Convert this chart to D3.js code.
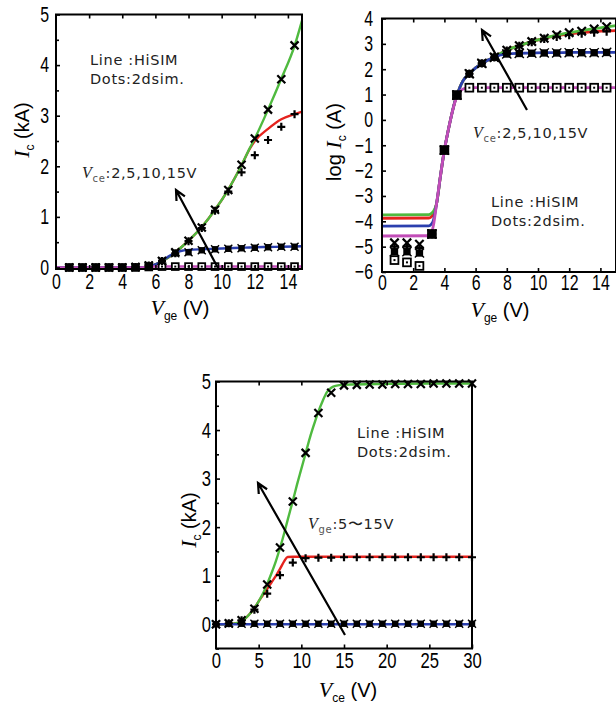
<!DOCTYPE html>
<html>
<head>
<meta charset="utf-8">
<script src="https://cdn.jsdelivr.net/npm/d3@7"></script>
<style>
  body { margin: 0; background: #fff; }
  svg { display: block; }
</style>
</head>
<body>
<svg id="fig" width="616" height="704"></svg>
<script>
// ---------- Panel (a): Ic vs Vge, linear scale, Vce = 2, 5, 10, 15 V ----------
const linGrid   = [0, 5, 5.6, 6, 6.4, 6.8, 7.2, 7.6, 8, 8.8, 9.6, 10.4, 11.2, 11.7, 12, 12.8, 13.6, 14.4, 14.85];
const linHi15   = [0, 0, 0.02, 0.06, 0.12, 0.2, 0.3, 0.41, 0.53, 0.8, 1.14, 1.54, 2.02, 2.36, 2.55, 3.12, 3.73, 4.38, 4.88];
const linHi10   = [0, 0, 0.02, 0.06, 0.12, 0.2, 0.3, 0.41, 0.53, 0.8, 1.14, 1.54, 2.02, 2.35, 2.5, 2.74, 2.93, 3.03, 3.08];
const linHi5    = [0, 0, 0.02, 0.06, 0.13, 0.22, 0.29, 0.33, 0.345, 0.36, 0.37, 0.38, 0.39, 0.395, 0.4, 0.405, 0.41, 0.415, 0.42];
const linHi2    = [0, 0, 0.015, 0.018, 0.018, 0.018, 0.018, 0.018, 0.018, 0.018, 0.018, 0.018, 0.018, 0.018, 0.018, 0.018, 0.018, 0.018, 0.018];

const vgeDots   = [0.8, 1.6, 2.4, 3.2, 4.0, 4.8, 5.6, 6.4, 7.2, 8.0, 8.8, 9.6, 10.4, 11.2, 12.0, 12.8, 13.6, 14.4];
const linDot15  = [0, 0, 0, 0, 0, 0.01, 0.04, 0.13, 0.3, 0.53, 0.79, 1.14, 1.53, 2.03, 2.55, 3.12, 3.72, 4.39];
const linDot10  = [0, 0, 0, 0, 0, 0.01, 0.04, 0.13, 0.28, 0.52, 0.78, 1.12, 1.5, 1.88, 2.22, 2.52, 2.78, 3.03];
const linDot5   = [0, 0, 0, 0, 0, 0.01, 0.04, 0.13, 0.28, 0.3, 0.34, 0.36, 0.37, 0.38, 0.39, 0.4, 0.41, 0.41];
const linDot2   = [0, 0, 0, 0, 0, 0, 0.01, 0.018, 0.018, 0.018, 0.018, 0.018, 0.018, 0.018, 0.018, 0.018, 0.018, 0.018];

// ---------- Panel (b): log10 Ic vs Vge ----------
const logGrid   = [0, 3.0, 3.15, 3.3, 3.5, 3.75, 4.0, 4.25, 4.5, 4.7, 4.85, 5.0, 5.2, 5.6, 6.0, 6.4, 6.8, 7.2, 7.6, 8.0, 8.8, 9.6, 10.4, 11.2, 12.0, 12.8, 13.6, 14.4, 15];
const logHi15   = [-3.75, -3.74, -3.7, -3.6, -3.3, -2.2, -1.19, -0.4, 0.3, 0.78, 1.05, 1.3, 1.55, 1.82, 2.05, 2.22, 2.36, 2.47, 2.62, 2.75, 2.93, 3.09, 3.22, 3.34, 3.44, 3.52, 3.6, 3.67, 3.72];
const logHi10   = [-3.88, -3.87, -3.83, -3.7, -3.3, -2.2, -1.19, -0.4, 0.3, 0.78, 1.05, 1.3, 1.55, 1.82, 2.05, 2.22, 2.36, 2.47, 2.62, 2.75, 2.93, 3.09, 3.22, 3.32, 3.39, 3.44, 3.48, 3.51, 3.52];
const logHi5    = [-4.19, -4.18, -4.12, -3.95, -3.3, -2.2, -1.19, -0.4, 0.3, 0.78, 1.05, 1.3, 1.55, 1.82, 2.05, 2.22, 2.36, 2.47, 2.56, 2.6, 2.63, 2.64, 2.65, 2.65, 2.66, 2.66, 2.66, 2.66, 2.66];
const logHi2    = [-4.58, -4.57, -4.5, -4.15, -3.3, -2.2, -1.19, -0.4, 0.3, 0.75, 0.98, 1.12, 1.22, 1.27, 1.27, 1.27, 1.27, 1.27, 1.27, 1.27, 1.27, 1.27, 1.27, 1.27, 1.27, 1.27, 1.27, 1.27, 1.27];

const logDot15  = [-4.85, -4.85, -4.9, -4.5, -1.19, 0.98, 1.82, 2.23, 2.47, 2.75, 2.93, 3.09, 3.22, 3.35, 3.44, 3.5, 3.59, 3.68];
const logDot10  = [-5.0, -5.0, -5.05, -4.5, -1.19, 0.98, 1.82, 2.23, 2.47, 2.73, 2.92, 3.07, 3.2, 3.28, 3.35, 3.41, 3.45, 3.49];
const logDot5   = [-5.2, -5.2, -5.25, -4.5, -1.19, 0.98, 1.82, 2.23, 2.47, 2.6, 2.62, 2.63, 2.64, 2.64, 2.65, 2.65, 2.65, 2.66];
const logDot2   = [-5.53, -5.62, -5.76, -4.5, -1.19, 0.98, 1.27, 1.27, 1.27, 1.27, 1.27, 1.27, 1.27, 1.27, 1.27, 1.27, 1.27, 1.27];

// ---------- Panel (c): Ic vs Vce, Vge = 5, 10, 15 V ----------
const vceGrid   = [0, 1, 2, 3, 3.5, 4, 4.5, 5, 5.5, 6, 6.5, 7, 7.5, 8, 8.4, 9, 9.5, 10, 10.5, 11, 11.5, 12, 12.5, 13, 13.5, 14, 15, 20, 25, 30];
const outHi15   = [0, 0, 0.01, 0.06, 0.13, 0.22, 0.33, 0.47, 0.63, 0.83, 1.05, 1.29, 1.57, 1.88, 2.15, 2.54, 2.88, 3.2, 3.52, 3.84, 4.12, 4.38, 4.6, 4.78, 4.87, 4.91, 4.93, 4.95, 4.96, 4.96];
const outHi10   = [0, 0, 0.01, 0.06, 0.13, 0.22, 0.33, 0.47, 0.6, 0.73, 0.86, 0.99, 1.14, 1.3, 1.385, 1.39, 1.39, 1.39, 1.39, 1.39, 1.39, 1.39, 1.39, 1.39, 1.39, 1.39, 1.39, 1.39, 1.39, 1.39];
const outHi5    = [0, 0, 0, 0, 0, 0, 0, 0, 0, 0, 0, 0, 0, 0, 0, 0, 0, 0, 0, 0, 0, 0, 0, 0, 0, 0, 0, 0, 0, 0];

const vceDots   = [0, 1.5, 3, 4.5, 6, 7.5, 9, 10.5, 12, 13.5, 15, 16.5, 18, 19.5, 21, 22.5, 24, 25.5, 27, 28.5, 30];
const outDot15  = [0, 0.02, 0.08, 0.32, 0.82, 1.58, 2.53, 3.53, 4.35, 4.77, 4.92, 4.93, 4.94, 4.94, 4.95, 4.95, 4.95, 4.96, 4.96, 4.96, 4.96];
const outDot10  = [0, 0.02, 0.08, 0.3, 0.63, 1.01, 1.27, 1.36, 1.37, 1.37, 1.38, 1.38, 1.38, 1.38, 1.38, 1.38, 1.38, 1.38, 1.38, 1.38, 1.38];
const outDot5   = [0, 0.01, 0.01, 0.01, 0.01, 0.01, 0.01, 0.01, 0.01, 0.01, 0.01, 0.01, 0.01, 0.01, 0.01, 0.01, 0.01, 0.01, 0.01, 0.01, 0.01];

// ---------- tick definitions ----------
const ticksVge    = [0, 2, 4, 6, 8, 10, 12, 14];
const ticksIcLin  = [0, 1, 2, 3, 4, 5];
const ticksLogIc  = [-6, -5, -4, -3, -2, -1, 0, 1, 2, 3, 4];
const ticksVce    = [0, 5, 10, 15, 20, 25, 30];

const COL = { g: "#4fba3f", r: "#e5231e", b: "#2b3fae", m: "#c24db8" };
const TICK_FONT = "'Liberation Sans', Arial, sans-serif";
const TICK_SX = 0.74;                       // condensed look for tick numerals
const NOTE_FONT = "'DejaVu Sans', sans-serif";
const TITLE_FONT = "'Liberation Sans', Arial, sans-serif";
const SERIF = "'Liberation Serif', 'Times New Roman', serif";
const fmtInt = d3.format("d");

const svg = d3.select("#fig");

// ---------- markers ----------
function drawMarkers(g, x, y, xs, ys, kind, s) {
  const pts = xs.map((v, i) => [x(v), y(ys[i])]);
  const grp = g.append("g");
  pts.forEach(([cx, cy]) => {
    if (kind === "x") {
      grp.append("path")
        .attr("d", `M${cx - s},${cy - s}L${cx + s},${cy + s}M${cx - s},${cy + s}L${cx + s},${cy - s}`)
        .attr("stroke", "#000").attr("stroke-width", 2.2).attr("fill", "none");
    } else if (kind === "+") {
      grp.append("path")
        .attr("d", `M${cx - s},${cy}L${cx + s},${cy}M${cx},${cy - s}L${cx},${cy + s}`)
        .attr("stroke", "#000").attr("stroke-width", 2.2).attr("fill", "none");
    } else if (kind === "fill") {
      const a = s * 0.8;
      grp.append("rect").attr("x", cx - a).attr("y", cy - a)
        .attr("width", 2 * a).attr("height", 2 * a).attr("fill", "#000");
      grp.append("path")
        .attr("d", `M${cx - s},${cy - s}L${cx + s},${cy + s}M${cx - s},${cy + s}L${cx + s},${cy - s}`)
        .attr("stroke", "#000").attr("stroke-width", 1.4).attr("fill", "none");
    } else if (kind === "open") {
      const a = s * 0.85;
      grp.append("rect").attr("x", cx - a).attr("y", cy - a)
        .attr("width", 2 * a).attr("height", 2 * a)
        .attr("fill", "#fff").attr("stroke", "#000").attr("stroke-width", 1.8);
      grp.append("rect").attr("x", cx - 1).attr("y", cy - 1)
        .attr("width", 2).attr("height", 2).attr("fill", "#000");
    }
  });
}

function drawLine(g, x, y, xs, ys, color, w) {
  const line = d3.line().x(d => x(d[0])).y(d => y(d[1])).curve(d3.curveMonotoneX);
  g.append("path")
    .datum(xs.map((v, i) => [v, ys[i]]))
    .attr("d", line)
    .attr("fill", "none")
    .attr("stroke", color)
    .attr("stroke-width", w)
    .attr("stroke-linejoin", "round");
}

function styleTicks(sel, size) {
  sel.selectAll("text")
    .attr("font-family", TICK_FONT)
    .attr("font-size", size)
    .attr("fill", "#000")
    .attr("transform", `scale(${TICK_SX},1)`);
  sel.selectAll("line").attr("stroke", "#000").attr("stroke-width", 1.6);
  sel.select(".domain").remove();
}

function frame(g, x, y, o) {
  const [x0, x1] = x.range();
  const [y0, y1] = y.range();
  // bottom axis with labels, inward ticks
  const bx = g.append("g").attr("transform", `translate(0,${y0})`)
    .call(d3.axisBottom(x).tickValues(o.xTicks).tickSize(-4).tickPadding(o.xPad).tickFormat(fmtInt));
  styleTicks(bx, o.fs);
  bx.selectAll(".tick").filter(d => d === o.xTicks[0]).select("line").remove();
  // top axis ticks
  const tx = g.append("g").attr("transform", `translate(0,${y1})`)
    .call(d3.axisTop(x).tickValues(o.xTicks.slice(1)).tickSize(-4).tickFormat(""));
  styleTicks(tx, o.fs);
  // left axis labels + major ticks
  const ly = g.append("g").attr("transform", `translate(${x0},0)`)
    .call(d3.axisLeft(y).tickValues(o.yTicks).tickSize(-4).tickPadding(o.yPad / TICK_SX).tickFormat(fmtInt));
  styleTicks(ly, o.fs);
  if (o.yMinor) {
    const my = g.append("g").attr("transform", `translate(${x0},0)`)
      .call(d3.axisLeft(y).tickValues(o.yMinor).tickSize(-3).tickFormat(""));
    styleTicks(my, o.fs);
  }
  // plot frame
  g.append("rect")
    .attr("x", x0).attr("y", y1).attr("width", x1 - x0).attr("height", y0 - y1)
    .attr("fill", "none").attr("stroke", "#000").attr("stroke-width", 2);
}

function arrow(g, x1, y1, x2, y2) {
  const ang = Math.atan2(y2 - y1, x2 - x1);
  const L = 11, spread = 0.45;
  const p1 = [x2 - L * Math.cos(ang - spread), y2 - L * Math.sin(ang - spread)];
  const p2 = [x2 - L * Math.cos(ang + spread), y2 - L * Math.sin(ang + spread)];
  g.append("path")
    .attr("d", `M${x1},${y1}L${x2},${y2}M${p1[0]},${p1[1]}L${x2},${y2}L${p2[0]},${p2[1]}`)
    .attr("stroke", "#000").attr("stroke-width", 2.2).attr("fill", "none")
    .attr("stroke-linejoin", "miter");
}

function note(g, x, y) {
  const t = g.append("text").attr("font-family", NOTE_FONT).attr("font-size", 14.5)
    .attr("letter-spacing", 0.7).attr("fill", "#222");
  t.append("tspan").attr("x", x).attr("y", y).text("Line :HiSIM");
  t.append("tspan").attr("x", x).attr("y", y + 19).text("Dots:2dsim.");
}

function paramLabel(g, x, y, sub, rest) {
  const t = g.append("text").attr("x", x).attr("y", y).attr("fill", "#222")
    .attr("font-family", NOTE_FONT).attr("font-size", 14.5).attr("letter-spacing", 0.7);
  t.append("tspan").attr("font-family", SERIF).attr("font-style", "italic").attr("font-size", 16).text("V");
  t.append("tspan").attr("font-size", 10).attr("dy", 4).attr("fill", "#555").text(sub);
  t.append("tspan").attr("dy", -4).text(rest);
}

function xTitle(g, cx, y, sub) {
  const t = g.append("text").attr("x", cx).attr("y", y).attr("text-anchor", "middle")
    .attr("font-family", TITLE_FONT).attr("font-size", 20).attr("fill", "#000");
  t.append("tspan").attr("font-family", SERIF).attr("font-style", "italic").attr("font-size", 22).text("V");
  t.append("tspan").attr("font-size", 12).attr("dy", 5).text(sub);
  t.append("tspan").attr("dy", -5).text(" (V)");
}

function yTitle(g, bx, cy, pre, unit) {
  const t = g.append("text").attr("transform", `translate(${bx},${cy}) rotate(-90)`)
    .attr("text-anchor", "middle")
    .attr("font-family", TITLE_FONT).attr("font-size", 20).attr("fill", "#000");
  if (pre) t.append("tspan").text(pre);
  t.append("tspan").attr("font-family", SERIF).attr("font-style", "italic").attr("font-size", 22).text("I");
  t.append("tspan").attr("font-size", 12).attr("dy", 5).text("c");
  t.append("tspan").attr("dy", -5).text(" (" + unit + ")");
}

// ===== Panel (a) =====
{
  const g = svg.append("g");
  const x = d3.scaleLinear().domain([0, 14.85]).range([56, 302]);
  const y = d3.scaleLinear().domain([-0.03, 5]).range([269, 14.5]);
  drawLine(g, x, y, linGrid, linHi10, COL.r, 2.4);
  drawLine(g, x, y, linGrid, linHi15, COL.g, 2.4);
  drawLine(g, x, y, linGrid, linHi5, COL.b, 2.4);
  drawLine(g, x, y, linGrid, linHi2, COL.m, 2.4);
  drawMarkers(g, x, y, vgeDots, linDot2, "open", 4);
  drawMarkers(g, x, y, vgeDots, linDot5, "fill", 4);
  drawMarkers(g, x, y, vgeDots, linDot10, "+", 4);
  drawMarkers(g, x, y, vgeDots, linDot15, "x", 4);
  frame(g, x, y, { xTicks: ticksVge, yTicks: ticksIcLin, yMinor: d3.range(0.5, 5, 1), fs: 21.5, xPad: 5, yPad: 7 });
  note(g, 90, 65);
  paramLabel(g, 82, 178, "ce", ":2,5,10,15V");
  arrow(g, 218, 268, 176, 190);
  xTitle(g, 180, 315, "ge");
  yTitle(g, 29, 130, null, "kA");
}

// ===== Panel (b) =====
{
  const g = svg.append("g");
  const x = d3.scaleLinear().domain([0, 15]).range([382, 616]);
  const y = d3.scaleLinear().domain([-6, 4]).range([272, 18.5]);
  drawLine(g, x, y, logGrid, logHi10, COL.r, 2.8);
  drawLine(g, x, y, logGrid, logHi15, COL.g, 2.8);
  drawLine(g, x, y, logGrid, logHi5, COL.b, 2.8);
  drawLine(g, x, y, logGrid, logHi2, COL.m, 2.8);
  drawMarkers(g, x, y, vgeDots, logDot2, "open", 4.6);
  drawMarkers(g, x, y, vgeDots, logDot5, "fill", 4.6);
  drawMarkers(g, x, y, vgeDots, logDot10, "+", 4.2);
  drawMarkers(g, x, y, vgeDots, logDot15, "x", 4.2);
  frame(g, x, y, { xTicks: ticksVge, yTicks: ticksLogIc, yMinor: null, fs: 21.5, xPad: 3, yPad: 9 });
  note(g, 491, 207);
  paramLabel(g, 473, 138, "ce", ":2,5,10,15V");
  arrow(g, 527, 110, 482, 30);
  xTitle(g, 500, 317, "ge");
  yTitle(g, 341, 142, "log ", "A");
}

// ===== Panel (c) =====
{
  const g = svg.append("g");
  const x = d3.scaleLinear().domain([0, 30]).range([216, 472]);
  const y = d3.scaleLinear().domain([-0.5, 5]).range([648.5, 381.5]);
  drawLine(g, x, y, vceGrid, outHi10, COL.r, 2.4);
  drawLine(g, x, y, vceGrid, outHi15, COL.g, 2.4);
  drawLine(g, x, y, vceGrid, outHi5, COL.b, 2.4);
  drawMarkers(g, x, y, vceDots, outDot5, "fill", 4);
  drawMarkers(g, x, y, vceDots, outDot10, "+", 4);
  drawMarkers(g, x, y, vceDots, outDot15, "x", 4);
  frame(g, x, y, { xTicks: ticksVce, yTicks: ticksIcLin, yMinor: d3.range(-0.5, 5, 1), fs: 22.5, xPad: 4, yPad: 5 });
  note(g, 357, 438);
  paramLabel(g, 308, 529, "ge", ":5\u301C15V");
  arrow(g, 345, 635, 258, 483);
  xTitle(g, 348, 697, "ce");
  yTitle(g, 196, 520, null, "kA");
}
</script>
</body>
</html>
